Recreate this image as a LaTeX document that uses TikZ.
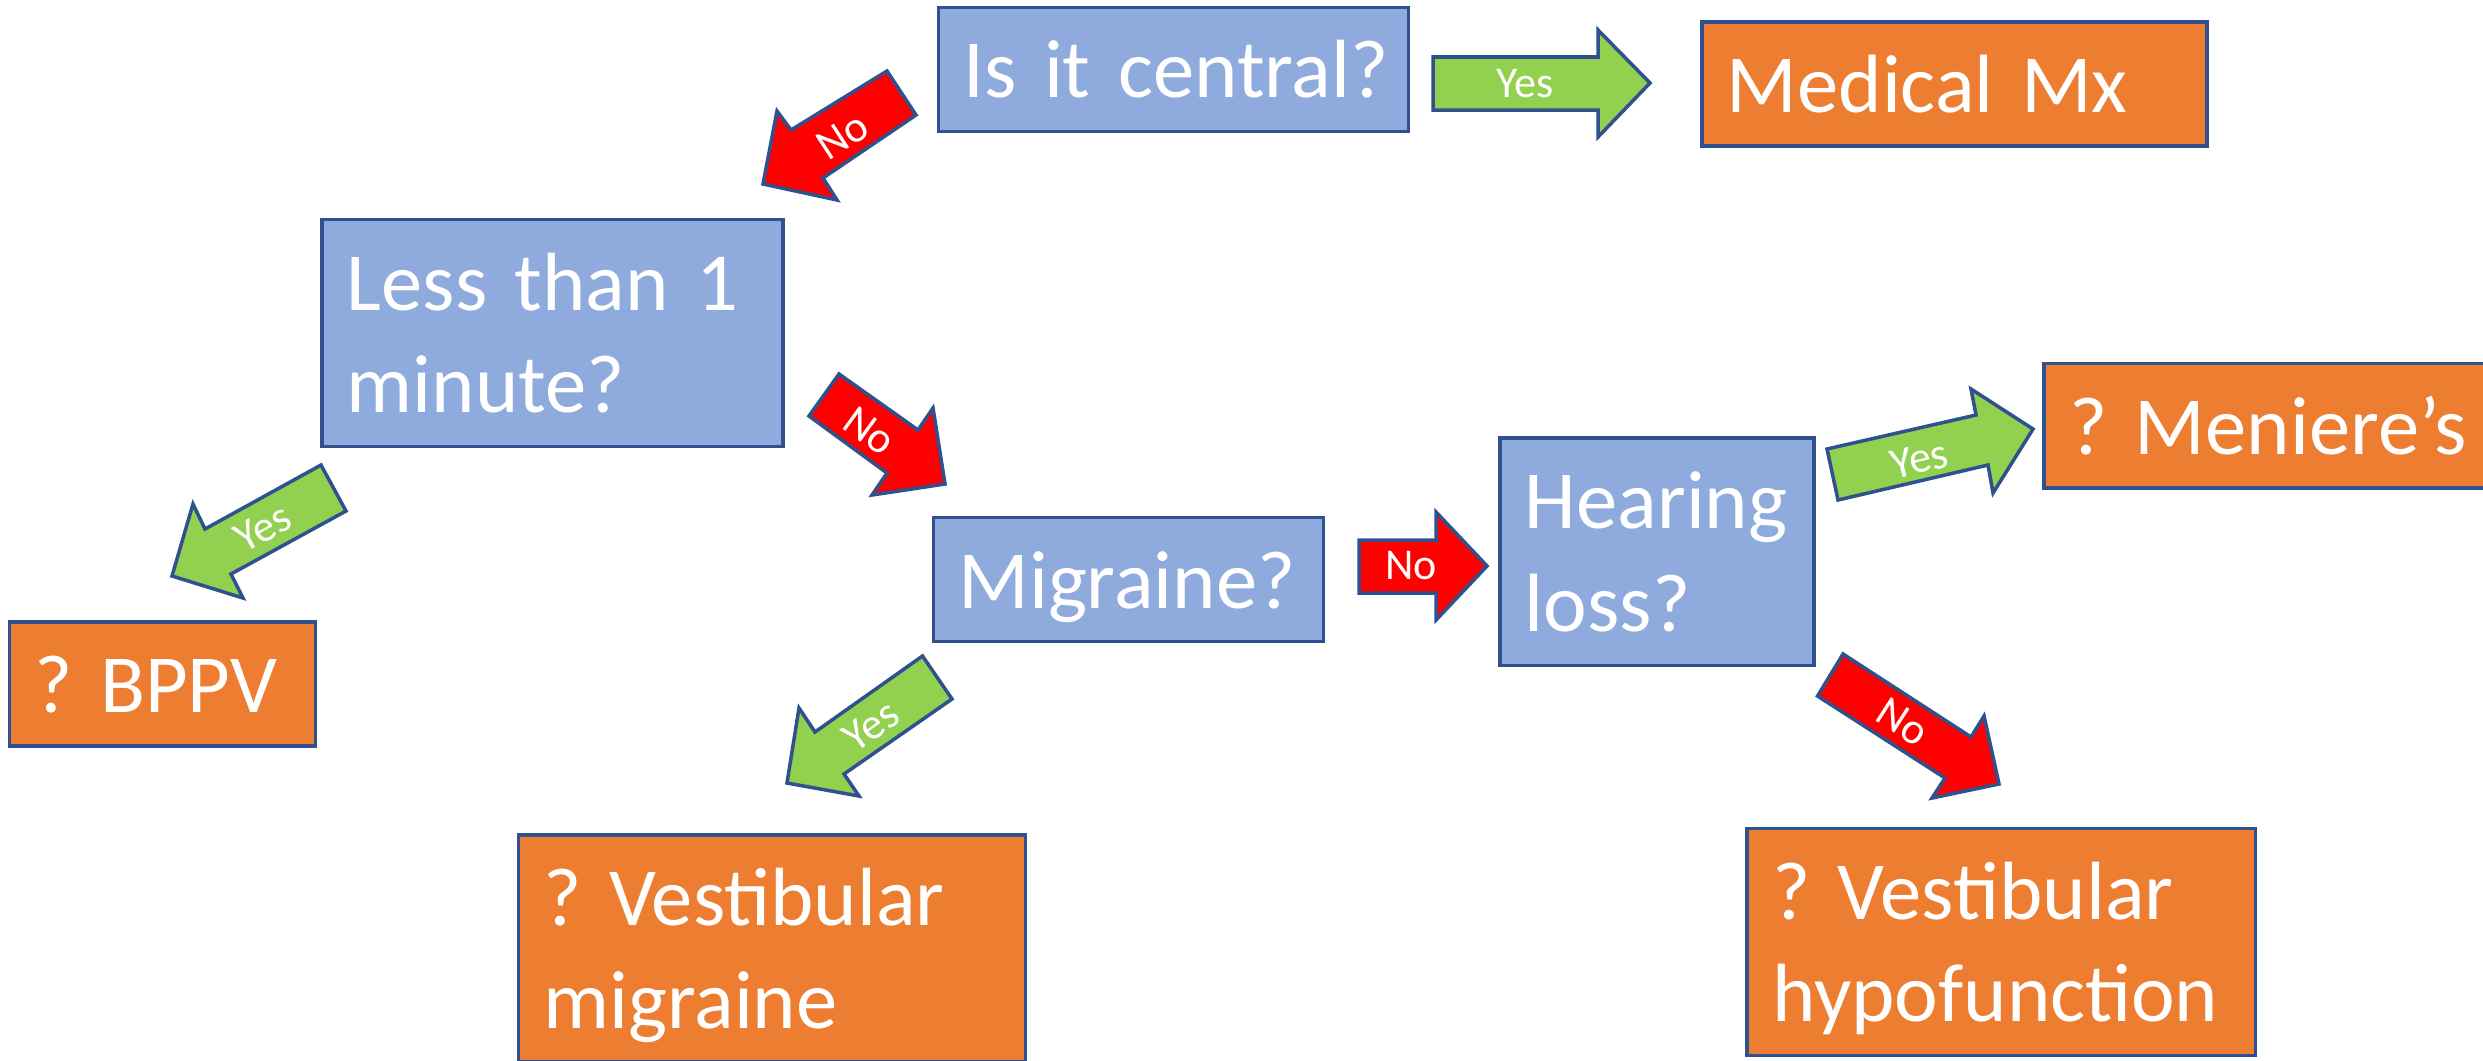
\documentclass[tikz,border=0pt]{standalone}
\usepackage{fontspec}
\setmainfont{Carlito}[WordSpace=0.7]
\usepackage{tikz}
\definecolor{qblue}{HTML}{8FAADC}
\definecolor{dxorange}{HTML}{ED7D31}
\definecolor{yesgreen}{HTML}{92D050}
\definecolor{edgeblue}{HTML}{2F528F}
\hyphenpenalty=10000
\frenchspacing

\begin{document}
\begin{tikzpicture}[x=0.01cm,y=-0.01cm,
  box/.style={draw=edgeblue,line width=1pt,text=white,inner xsep=0.25cm,inner ysep=0pt,
    text height=16.2pt,text depth=0pt,font=\fontsize{23.5}{29.2}\selectfont},
  quest/.style={box,fill=qblue},
  diag/.style={box,fill=dxorange},
  twoline/.style={text depth=29.2pt},
  flow/.style={draw=edgeblue,line width=1pt,line join=miter},
  lab/.style={text=white,inner sep=0pt,font=\fontsize{12.5}{15}\selectfont}]
  \useasboundingbox (0,0) rectangle (2483,1060);
  \clip (0,0) rectangle (2483,1060);
  \node[quest,text width=4.20cm,minimum height=1.24cm] (central) at (1173.5,69.5) {\mbox{Is it central?}};
  \node[diag,text width=4.55cm,minimum height=1.24cm] (medical) at (1954.4,84) {Medical Mx};
  \node[quest,twoline,text width=4.11cm,minimum height=2.27cm] (short) at (552.5,333) {Less than 1\\minute?};
  \node[diag,text width=2.56cm,minimum height=1.24cm] (bppv) at (162.6,684) {\mbox{? BPPV}};
  \node[quest,text width=3.40cm,minimum height=1.24cm] (migraine) at (1128.5,579.5) {Migraine?};
  \node[quest,twoline,text width=2.64cm,minimum height=2.27cm] (hearing) at (1657,551.7) {Hearing\\loss?};
  \node[diag,twoline,text width=4.57cm,minimum height=2.27cm] (vestmig) at (772,948.5) {? Vestibular\\migraine};
  \node[diag,text width=4.30cm,minimum height=1.24cm] (meniere) at (2284.3,425.7) {? Meniere’s};
  \node[diag,twoline,text width=4.58cm,minimum height=2.27cm] (hypo) at (2001.3,942) {? Vestibular\\hypofunction};

  \draw[flow,fill=yesgreen] (1433,57) -- (1598,57) -- (1598,30) -- (1650,83)
    -- (1598,137) -- (1598,110) -- (1433,110) -- cycle;
  \node[lab] (yes1) at (1525,84) {Yes};
  \draw[flow,fill=red] (887,71) -- (916,115) -- (823,178) -- (837,200)
    -- (763,184) -- (777,111) -- (791,130) -- cycle;
  \node[lab,rotate=33] (no1) at (843,136) {No};
  \draw[flow,fill=red] (839,374) -- (809,416) -- (887,473) -- (872,495)
    -- (945,484) -- (933,408) -- (918,430) -- cycle;
  \node[lab,rotate=-36] (no2) at (870,431) {No};
  \draw[flow,fill=yesgreen] (321,465) -- (346,511) -- (231,574) -- (243,598)
    -- (172,576) -- (193,504) -- (205,529) -- cycle;
  \node[lab,rotate=28.6] (yes2) at (263,528) {Yes};
  \draw[flow,fill=yesgreen] (922.5,656) -- (952,699) -- (844,774) -- (859,796)
    -- (787,783) -- (799,708) -- (815,732) -- cycle;
  \node[lab,rotate=35] (yes3) at (871,726) {Yes};
  \draw[flow,fill=red] (1359,540) -- (1436,540) -- (1436,512) -- (1487,566)
    -- (1436,620) -- (1436,593) -- (1359,593) -- cycle;
  \node[lab] (no3) at (1411,566) {No};
  \draw[flow,fill=yesgreen] (1827,449) -- (1976,415) -- (1971,389) -- (2033,429)
    -- (1993,493) -- (1988,465) -- (1838,500) -- cycle;
  \node[lab,rotate=12.9] (yes4) at (1919,459) {Yes};
  \draw[flow,fill=red] (1843,654) -- (1971,737) -- (1984,716) -- (1999,784)
    -- (1932,798) -- (1945,778) -- (1817.5,696) -- cycle;
  \node[lab,rotate=-32.8] (no4) at (1903,722) {No};
\end{tikzpicture}
\end{document}
